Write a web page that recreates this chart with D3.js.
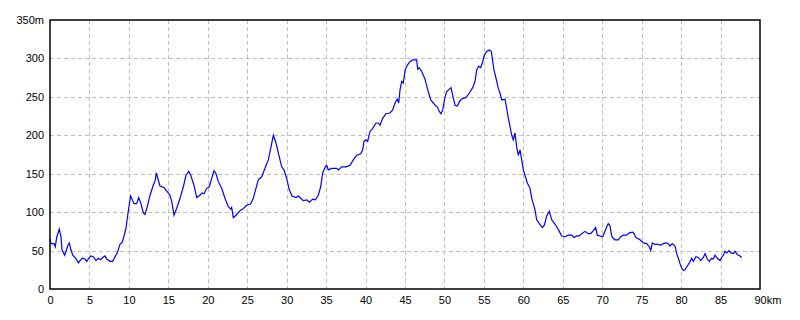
<!DOCTYPE html>
<html>
<head>
<meta charset="utf-8">
<script src="https://cdn.jsdelivr.net/npm/d3@7"></script>
<style>
  body { margin: 0; background: #fff; }
  text { font-family: "Liberation Sans", Arial, sans-serif; font-size: 11px; fill: #000; }
</style>
</head>
<body>
<script>
var w = 800, h = 320;

// distance along the course (km)
var distKm = [0, 0.13, 0.51, 0.67, 0.85, 1.18, 1.39, 1.52, 1.86, 2.12, 2.32, 2.45, 2.62, 2.88, 3.17, 3.38, 3.59, 3.80, 4.09, 4.44,
  4.65, 4.91, 5.16, 5.49, 5.83, 6.12, 6.43, 6.68, 6.97, 7.19, 7.61, 7.95, 8.24, 8.53, 8.87, 9.16, 9.38, 9.63, 9.85, 10.05,
  10.23, 10.65, 10.99, 11.24, 11.50, 11.83, 12.04, 12.33, 12.68, 13.09, 13.35, 13.47, 13.94, 14.45, 14.83, 15.21, 15.43, 15.72, 16.06, 16.48,
  16.90, 17.24, 17.58, 17.84, 18.25, 18.60, 19.01, 19.27, 19.52, 19.86, 20.19, 20.50, 20.79, 21.04, 21.33, 21.76, 22.18, 22.60, 22.91, 23.03,
  23.24, 23.58, 24.08, 24.43, 24.93, 25.44, 25.77, 26.11, 26.40, 26.84, 27.25, 27.67, 27.98, 28.31, 28.65, 28.94, 29.37, 29.66, 30.00, 30.33,
  30.68, 31.18, 31.53, 31.78, 32.11, 32.54, 32.87, 33.30, 33.63, 34.01, 34.31, 34.57, 34.90, 35.07, 35.28, 35.71, 36.34, 36.55, 36.98, 37.52,
  38.03, 38.45, 38.88, 39.38, 39.64, 39.80, 40.06, 40.27, 40.56, 40.91, 41.32, 41.62, 41.83, 42.17, 42.59, 43.10, 43.44, 43.73, 44.02, 44.20,
  44.37, 44.58, 44.78, 45.04, 45.29, 45.63, 45.98, 46.48, 46.61, 46.81, 47.12, 47.54, 47.83, 48.26, 48.59, 48.93, 49.09, 49.35, 49.56, 49.78,
  50.03, 50.29, 50.62, 50.83, 51.05, 51.34, 51.63, 51.97, 52.31, 52.73, 53.15, 53.58, 53.87, 54.09, 54.34, 54.60, 54.85, 55.05, 55.36, 55.69,
  55.94, 56.12, 56.28, 56.54, 56.83, 57.04, 57.26, 57.68, 57.89, 58.10, 58.22, 58.53, 58.73, 58.94, 59.16, 59.36, 59.58, 59.79, 60.00, 60.21,
  60.50, 60.85, 61.06, 61.26, 61.48, 61.69, 62.03, 62.41, 62.66, 62.96, 63.29, 63.60, 63.89, 64.23, 64.56, 64.86, 65.28, 65.70, 66.13, 66.42,
  66.77, 67.10, 67.40, 67.82, 68.24, 68.54, 68.87, 69.17, 69.38, 69.72, 70.06, 70.35, 70.57, 70.77, 70.99, 71.20, 71.40, 71.62, 72.04, 72.34,
  72.67, 73.10, 73.43, 73.86, 74.03, 74.28, 74.79, 75.21, 75.64, 75.97, 76.15, 76.35, 76.69, 77.11, 77.41, 77.74, 78.08, 78.38, 78.59, 78.88,
  79.23, 79.44, 79.65, 79.86, 80.08, 80.28, 80.49, 80.79, 81.04, 81.34, 81.55, 81.89, 82.18, 82.48, 82.81, 83.03, 83.32, 83.57, 83.88, 84.08,
  84.30, 84.59, 84.93, 85.14, 85.35, 85.56, 85.78, 86.07, 86.29, 86.62, 86.83, 87.12, 87.47, 87.68];

// elevation (m)
var elevM = [65, 59, 59, 55, 67, 78, 68, 51, 44, 52, 58, 60, 52, 44, 41, 38, 34, 37, 40, 39,
  36, 40, 43, 42, 37, 40, 38, 41, 43, 39, 36, 36, 42, 47, 58, 61, 69, 79, 96, 110,
  121, 111, 111, 119, 112, 99, 97, 107, 122, 135, 142, 151, 134, 132, 127, 122, 114, 96, 105, 118,
  133, 148, 153, 148, 135, 119, 122, 125, 124, 131, 133, 144, 154, 150, 140, 131, 118, 107, 104, 106,
  93, 96, 102, 104, 109, 111, 118, 131, 142, 146, 157, 168, 183, 200, 190, 177, 159, 155, 144, 129,
  121, 119, 121, 118, 115, 116, 113, 117, 116, 122, 133, 151, 159, 161, 155, 157, 157, 155, 159, 159,
  161, 168, 174, 176, 181, 192, 194, 192, 205, 209, 216, 216, 213, 222, 228, 229, 233, 242, 247, 242,
  259, 270, 268, 286, 291, 296, 298, 298, 286, 288, 283, 273, 261, 246, 242, 238, 237, 231, 228, 233,
  248, 257, 260, 262, 252, 239, 238, 245, 248, 249, 255, 262, 270, 285, 290, 288, 296, 304, 309, 311,
  309, 296, 285, 274, 261, 255, 246, 247, 235, 222, 216, 200, 194, 203, 185, 174, 181, 168, 155, 148,
  138, 131, 118, 111, 103, 90, 85, 80, 83, 95, 101, 90, 86, 81, 75, 69, 68, 70, 70, 67,
  69, 69, 72, 75, 72, 72, 76, 80, 70, 69, 68, 75, 81, 85, 82, 69, 66, 64, 64, 68,
  70, 70, 73, 74, 72, 67, 64, 60, 59, 55, 50, 60, 58, 58, 57, 59, 60, 59, 56, 59,
  56, 46, 40, 33, 27, 24, 25, 30, 34, 40, 36, 42, 41, 37, 41, 46, 39, 36, 40, 39,
  44, 40, 37, 41, 44, 49, 47, 50, 47, 46, 49, 45, 43, 41];

var xTicks = [0, 5, 10, 15, 20, 25, 30, 35, 40, 45, 50, 55, 60, 65, 70, 75, 80, 85, 90];
var yTicks = [0, 50, 100, 150, 200, 250, 300, 350];

var plotLeft = 50, plotRight = 760, plotTop = 20, plotBottom = 289;

var svg = d3.select("body")
    .append("svg")
    .attr("width", w)
    .attr("height", h);

svg.append("rect")
    .attr("width", w)
    .attr("height", h)
    .style("fill", "#fff");

var xScale = d3.scaleLinear()
        .domain([0, 90])
        .range([plotLeft, plotRight]);

var yScale = d3.scaleLinear()
        .domain([0, 350])
        .range([plotBottom, plotTop]);

// grid
svg.append("g")
    .selectAll("line")
    .data(xTicks.slice(1, -1))
    .enter()
    .append("line")
    .attr("x1", d => Math.round(xScale(d)) + 0.5)
    .attr("x2", d => Math.round(xScale(d)) + 0.5)
    .attr("y1", plotTop)
    .attr("y2", plotBottom)
    .style("stroke", "#c0c0c0")
    .style("stroke-dasharray", "4,3");

svg.append("g")
    .selectAll("line")
    .data(yTicks.slice(1, -1))
    .enter()
    .append("line")
    .attr("x1", plotLeft)
    .attr("x2", plotRight)
    .attr("y1", d => Math.round(yScale(d)) + 0.5)
    .attr("y2", d => Math.round(yScale(d)) + 0.5)
    .style("stroke", "#c0c0c0")
    .style("stroke-dasharray", "4,3");

// elevation profile
var line = d3.line()
    .x((d, i) => xScale(distKm[i]))
    .y(d => yScale(d));

svg.append("path")
    .attr("d", line(elevM))
    .style("fill", "none")
    .style("stroke", "#0000ff")
    .style("stroke-width", 1.2);

// frame
svg.append("rect")
    .attr("x", plotLeft)
    .attr("y", plotTop)
    .attr("width", plotRight - plotLeft)
    .attr("height", plotBottom - plotTop)
    .style("fill", "none")
    .style("stroke", "#000")
    .style("stroke-width", 1.5);

// axes (labels only)
var xAxis = d3.axisBottom(xScale)
    .tickValues(xTicks)
    .tickSize(0)
    .tickPadding(7)
    .tickFormat(d => d == 90 ? "90km" : d);

var gx = svg.append("g")
    .attr("transform", "translate(0," + plotBottom + ")")
    .call(xAxis);
gx.select(".domain").remove();
gx.selectAll("text")
    .style("font-family", "Liberation Sans, Arial, sans-serif")
    .style("font-size", "11px")
    .filter(d => d == 90)
    .attr("text-anchor", "start")
    .attr("x", -6);

var yAxis = d3.axisLeft(yScale)
    .tickValues(yTicks)
    .tickSize(0)
    .tickPadding(6)
    .tickFormat(d => d == 350 ? "350m" : d);

var gy = svg.append("g")
    .attr("transform", "translate(" + plotLeft + ",0)")
    .call(yAxis);
gy.select(".domain").remove();
gy.selectAll("text")
    .style("font-family", "Liberation Sans, Arial, sans-serif")
    .style("font-size", "11px");
</script>
</body>
</html>
